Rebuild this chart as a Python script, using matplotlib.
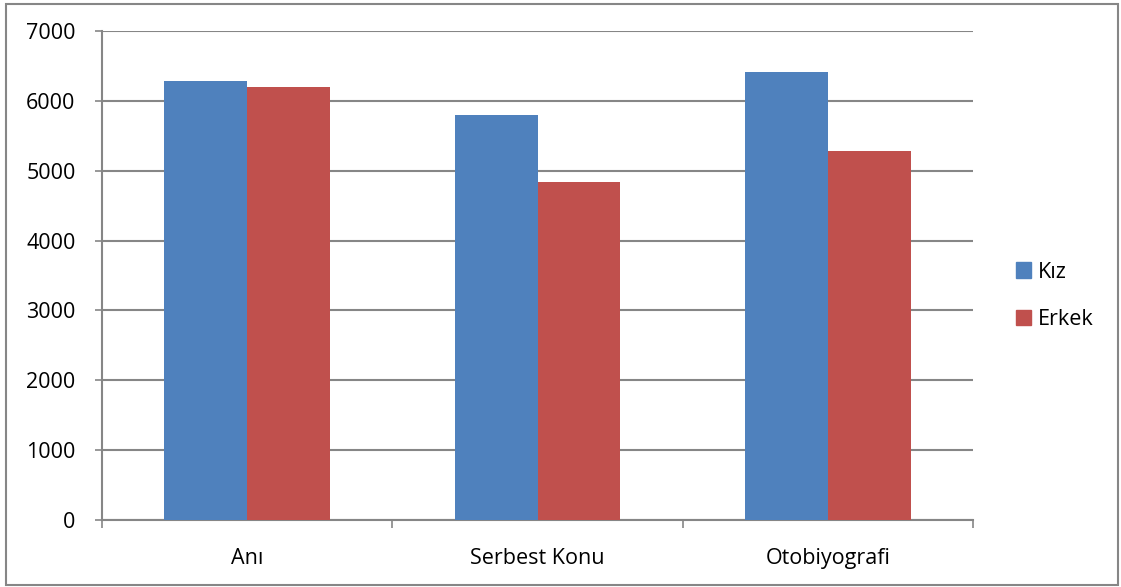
import numpy as np
import matplotlib.pyplot as plt
from matplotlib.patches import Rectangle, Patch

#%% Datos
categorias = ['Anı', 'Serbest Konu', 'Otobiyografi']
kiz = [6280, 5800, 6410]
erkek = [6195, 4845, 5285]
yticks = [0, 1000, 2000, 3000, 4000, 5000, 6000, 7000]

azul = '#4F81BD'
rojo = '#C0504D'
gris = '#868686'

plt.rcParams['font.family'] = ['Open Sans', 'DejaVu Sans']
plt.rcParams['font.size'] = 15.5

fig = plt.figure(figsize=(11.21, 5.87), dpi=100)
ax = fig.add_axes([102/1121, 67/587, 871/1121, 489/587])

x = np.arange(len(categorias))
w = 1/3.5
ax.bar(x - w/2, kiz, w, color=azul, label='Kız', zorder=3)
ax.bar(x + w/2, erkek, w, color=rojo, label='Erkek', zorder=3)

ax.set_xlim(-0.5, 2.5)
ax.set_ylim(0, 7000)
ax.set_yticks(yticks)
ax.yaxis.grid(True, color=gris, linewidth=1.5, zorder=0)

# marcas del eje x en los bordes de cada categoria
ax.set_xticks([-0.5, 0.5, 1.5, 2.5])
ax.set_xticklabels([])
ax.set_xticks(x, minor=True)
ax.set_xticklabels(categorias, minor=True)
ax.tick_params(axis='x', which='major', length=6, width=1.2, color=gris, direction='out')
ax.tick_params(axis='x', which='minor', length=0, pad=20)
ax.tick_params(axis='y', length=5, width=1.2, color=gris, pad=14)

for s in ['top', 'right']:
    ax.spines[s].set_visible(False)
for s in ['left', 'bottom']:
    ax.spines[s].set_color(gris)
    ax.spines[s].set_linewidth(1.5)

handles = [Patch(color=azul, label='Kız'), Patch(color=rojo, label='Erkek')]
fig.legend(handles=handles, loc='center left', bbox_to_anchor=(1016/1121, 1 - 296/587),
           frameon=False, handlelength=0.7, handleheight=0.7, handletextpad=0.3,
           labelspacing=1.25, borderaxespad=0, borderpad=0)

# borde exterior del grafico
fig.patches.append(Rectangle((6/1121, 2/587), 1112/1121, 581/587, transform=fig.transFigure,
                             fill=False, edgecolor=gris, linewidth=1.5))

fig.savefig('out.png', dpi=100)
